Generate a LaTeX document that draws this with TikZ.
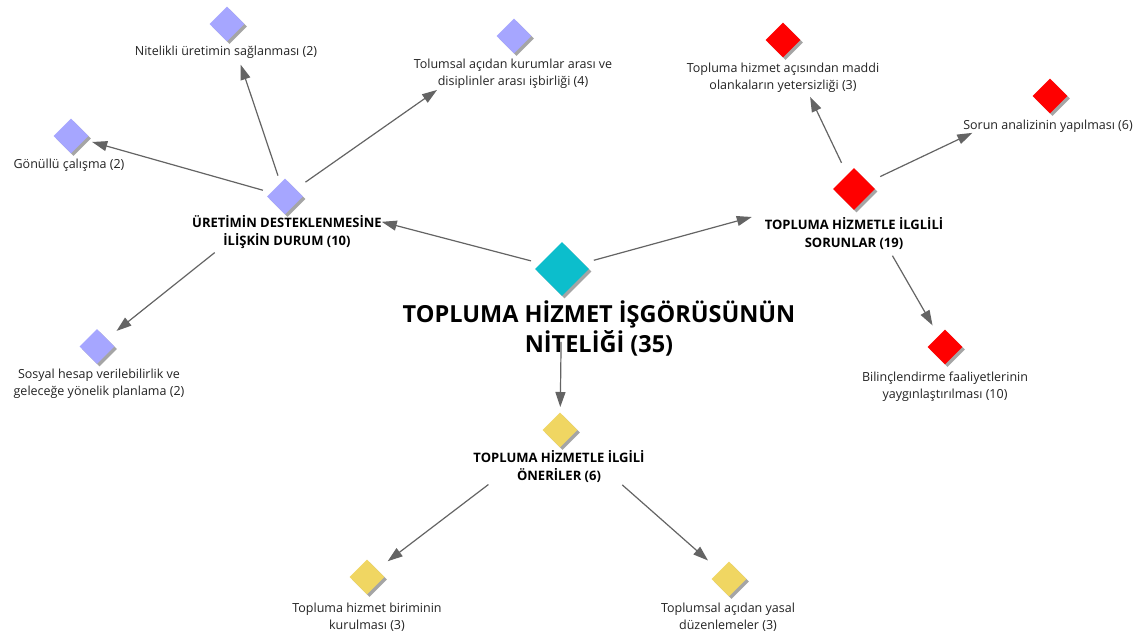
\documentclass[tikz,border=0pt]{standalone}
\usepackage{fontspec}
\setmainfont{Open Sans}
\usetikzlibrary{shapes.geometric,arrows.meta,shadows}

\definecolor{lav}{RGB}{166,166,255}
\definecolor{redn}{RGB}{255,0,0}
\definecolor{tealc}{RGB}{12,190,204}
\definecolor{yel}{RGB}{240,214,98}
\definecolor{shade}{RGB}{165,165,165}
\definecolor{conn}{RGB}{100,100,100}
\definecolor{txt}{RGB}{35,35,35}

\tikzset{
  dia/.style={diamond, inner sep=0pt, minimum width=#1, minimum height=#1,
    draw=none, drop shadow={shadow xshift=2.5pt, shadow yshift=-2.5pt, fill=shade, opacity=1}},
  lbl/.style={align=center, text=txt, inner sep=0pt, yshift=-2pt,
    font=\fontsize{12.5}{17}\selectfont},
  grp/.style={align=center, text=black, inner sep=0pt,
    font=\bfseries\fontsize{13}{18}\selectfont},
  hub/.style={align=center, text=black, inner sep=0pt,
    font=\bfseries\fontsize{23.5}{30}\selectfont},
  link/.style={draw=conn, line width=1.2pt,
    -{Triangle[length=15pt,width=10pt]}, shorten <=#1},
}

\begin{document}
\begin{tikzpicture}[x=1pt, y=-1pt]
\path[use as bounding box, fill=white] (0,0) rectangle (1142,631);

% central theme
\node[dia=54pt, fill=tealc] (C) at (562,269) {};
\node[hub] (Cl) at (599,328) {TOPLUMA HİZMET İŞGÖRÜSÜNÜN\\NİTELİĞİ (35)};

% support for production (lavender)
\node[dia=36pt, fill=lav] (U) at (285,196.5) {};
\node[grp] (Ul) at (287,232.5) {ÜRETİMİN DESTEKLENMESİNE\\İLİŞKİN DURUM (10)};
\node[dia=35pt, fill=lav] (N) at (227,24) {};
\node[lbl] (Nl) at (226,50) {Nitelikli üretimin sağlanması (2)};
\node[dia=35pt, fill=lav] (T) at (514,36) {};
\node[lbl] (Tl) at (513,71.5) {Tolumsal açıdan kurumlar arası ve\\disiplinler arası işbirliği (4)};
\node[dia=35pt, fill=lav] (G) at (71,136) {};
\node[lbl] (Gl) at (69,163) {Gönüllü çalışma (2)};
\node[dia=35pt, fill=lav] (Y) at (97,346.5) {};
\node[lbl] (Yl) at (99,382) {Sosyal hesap verilebilirlik ve\\geleceğe yönelik planlama (2)};

% problems (red)
\node[dia=42pt, fill=redn] (S) at (854,189) {};
\node[grp] (Sl) at (854,233.5) {TOPLUMA HİZMETLE İLGLİLİ\\SORUNLAR (19)};
\node[dia=35pt, fill=redn] (M) at (783,40) {};
\node[lbl] (Ml) at (783,76) {Topluma hizmet açısından maddi\\olankaların yetersizliği (3)};
\node[dia=35pt, fill=redn] (A) at (1050,96) {};
\node[lbl] (Al) at (1048,124) {Sorun analizinin yapılması (6)};
\node[dia=35pt, fill=redn] (B) at (945,347) {};
\node[lbl] (Bl) at (945,385) {Bilinçlendirme faaliyetlerinin\\yaygınlaştırılması (10)};

% suggestions (yellow)
\node[dia=35pt, fill=yel] (O) at (560,430) {};
\node[grp] (Ol) at (559,467) {TOPLUMA HİZMETLE İLGİLİ\\ÖNERİLER (6)};
\node[dia=35pt, fill=yel] (R) at (367,577) {};
\node[lbl] (Rl) at (367,615) {Topluma hizmet biriminin\\kurulması (3)};
\node[dia=35pt, fill=yel] (Z) at (729,579) {};
\node[lbl] (Zl) at (728,615) {Toplumsal açıdan yasal\\düzenlemeler (3)};

% connectors
\draw[link=32pt, shorten >=100pt] (C.center) -- (U.center);
\draw[link=33pt, shorten >=106pt] (C.center) -- (S.center);
\draw[link=73pt, shorten >=23pt] (C.center) -- (O.center);
\draw[link=22pt, shorten >=43pt] (U.center) -- (N.center);
\draw[link=23pt, shorten >=22pt] (U.center) -- (G.center);
\draw[link=25pt, shorten >=94pt] (U.center) -- (T.center);
\draw[link=90pt, shorten >=25pt] (U.center) -- (Y.center);
\draw[link=29pt, shorten >=63pt] (S.center) -- (M.center);
\draw[link=29pt, shorten >=86pt] (S.center) -- (A.center);
\draw[link=77pt, shorten >=25pt] (S.center) -- (B.center);
\draw[link=90pt, shorten >=26pt] (O.center) -- (R.center);
\draw[link=83pt, shorten >=28pt] (O.center) -- (Z.center);
\end{tikzpicture}
\end{document}
